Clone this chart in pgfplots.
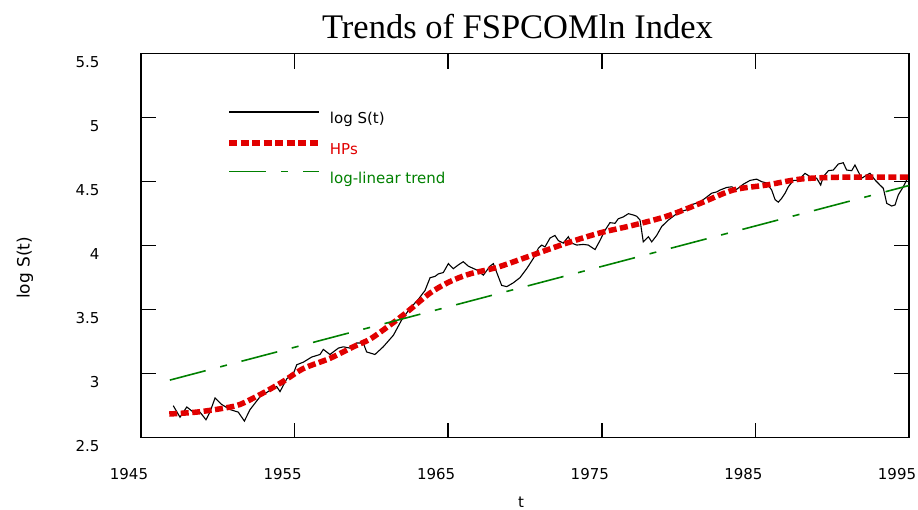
\documentclass[border=0pt]{standalone}
\usepackage{pgfplots}
\pgfplotsset{compat=1.18}
\usepackage{fontspec}
\setmainfont{DejaVu Sans}
\newfontfamily\titlefont{Liberation Serif}
\definecolor{hpred}{RGB}{225,0,0}
\definecolor{trendgreen}{RGB}{0,128,0}
\begin{document}
\begin{tikzpicture}
\useasboundingbox (0,0) rectangle (918pt,510pt);
\begin{axis}[
  at={(141pt,72.3pt)}, anchor=south west,
  width=768pt, height=384pt, scale only axis,
  xmin=1945, xmax=1995, ymin=2.5, ymax=5.5,
  xtick={1945,1955,1965,1975,1985,1995},
  ytick={2.5,3,3.5,4,4.5,5,5.5},
  /pgf/number format/1000 sep={},
  /pgf/number format/assume math mode=true,
  tick align=inside,
  major tick length=15pt,
  axis line style={line width=1.5pt},
  every tick/.style={black, line width=1.5pt},
  ticklabel style={font=\fontsize{15}{18}\selectfont},
  yticklabel style={xshift=-38pt, yshift=-8pt},
  xticklabel style={xshift=-12pt, yshift=-27pt},
  title={\titlefont Trends of FSPCOMln Index},
  title style={font=\fontsize{34.5}{40}\selectfont, at={(axis description cs:0.5,1)}, anchor=south, yshift=5pt, xshift=-7.5pt},
  xlabel={t},
  xlabel style={font=\fontsize{15}{18}\selectfont, at={(axis description cs:0.495,-0.168)}, anchor=center},
  ylabel={log S(t)},
  ylabel style={font=\fontsize{17}{20}\selectfont, at={(axis description cs:-0.151,0.442)}, anchor=center},
  legend style={draw=none, fill=none, at={(axis description cs:0.111,0.85)}, anchor=north west,
    font=\fontsize{15}{18}\selectfont, inner sep=0pt, nodes={inner sep=0pt}, column sep=8pt, row sep=14pt},
  legend cell align=left,
  legend image code/.code={\path[draw=none,fill=none] (0pt,-7pt) rectangle (90pt,7pt); \draw[#1] (0pt,7pt) -- (90pt,7pt);},
]
\addplot[black, line width=1.1pt] coordinates {
(1947.10,2.75) (1947.54,2.66) (1947.98,2.74) (1948.40,2.70) (1948.84,2.70)
(1949.23,2.64) (1949.49,2.70) (1949.82,2.81) (1950.25,2.76) (1950.79,2.72)
(1951.33,2.70) (1951.73,2.63) (1952.10,2.72) (1952.75,2.82) (1953.40,2.87)
(1953.83,2.90) (1954.05,2.86) (1954.49,2.96) (1954.92,3.00) (1955.14,3.07)
(1955.57,3.09) (1956.11,3.13) (1956.65,3.15) (1956.87,3.19) (1957.30,3.15)
(1957.85,3.20) (1958.17,3.21) (1958.61,3.20) (1959.04,3.24) (1959.47,3.24)
(1959.69,3.17) (1960.23,3.15) (1960.77,3.21) (1961.43,3.30) (1961.97,3.42)
(1962.51,3.51) (1963.05,3.58) (1963.49,3.65) (1963.82,3.75) (1964.14,3.76)
(1964.36,3.78) (1964.68,3.79) (1965.01,3.86) (1965.33,3.82) (1965.66,3.85)
(1965.98,3.875) (1966.31,3.84) (1966.86,3.81) (1967.29,3.77) (1967.72,3.84)
(1967.94,3.86) (1968.48,3.69) (1968.81,3.68) (1969.24,3.71) (1969.67,3.75)
(1970.11,3.82) (1970.54,3.90) (1970.87,3.98) (1971.09,4.005) (1971.30,3.99)
(1971.63,4.06) (1971.95,4.08) (1972.17,4.04) (1972.49,4.02) (1972.82,4.07)
(1973.04,4.02) (1973.37,4.005) (1973.80,4.01) (1974.12,4.005) (1974.56,3.97)
(1974.88,4.04) (1975.21,4.12) (1975.53,4.18) (1975.86,4.175) (1976.07,4.21)
(1976.40,4.225) (1976.73,4.25) (1977.05,4.24) (1977.27,4.23) (1977.49,4.20)
(1977.70,4.03) (1978.03,4.07) (1978.25,4.03) (1978.57,4.08) (1978.90,4.15)
(1979.33,4.20) (1979.77,4.24) (1980.09,4.265) (1980.53,4.28) (1980.96,4.325)
(1981.39,4.34) (1981.83,4.38) (1982.15,4.41) (1982.48,4.42) (1982.70,4.435)
(1983.13,4.455) (1983.46,4.46) (1983.78,4.44) (1984.21,4.48) (1984.65,4.51)
(1985.08,4.52) (1985.41,4.50) (1985.73,4.49) (1986.06,4.435) (1986.28,4.36)
(1986.49,4.34) (1986.71,4.37) (1986.93,4.41) (1987.14,4.46) (1987.47,4.51)
(1987.79,4.51) (1988.23,4.565) (1988.55,4.54) (1988.99,4.527) (1989.25,4.474)
(1989.42,4.539) (1989.75,4.586) (1990.07,4.591) (1990.40,4.638) (1990.72,4.648)
(1990.94,4.591) (1991.27,4.586) (1991.48,4.63) (1991.70,4.578) (1991.92,4.527)
(1992.25,4.552) (1992.46,4.566) (1992.79,4.513) (1993.11,4.474) (1993.33,4.448)
(1993.55,4.331) (1993.87,4.31) (1994.09,4.318) (1994.30,4.396) (1994.63,4.461)
(1994.85,4.513) (1995.00,4.55)
};
\addlegendentry{log S(t)}
\addplot[hpred, line width=5.5pt, dash pattern=on 8pt off 3.5pt, smooth] coordinates {
(1946.84,2.685) (1948.63,2.70) (1950.36,2.73) (1951.45,2.76) (1952.96,2.85)
(1954.26,2.94) (1955.57,3.04) (1957.30,3.12) (1958.82,3.21) (1959.91,3.27)
(1961.21,3.38) (1962.30,3.48) (1963.82,3.63) (1965.12,3.72) (1966.42,3.78)
(1968.16,3.83) (1970.33,3.92) (1972.71,4.02) (1974.88,4.10) (1977.05,4.16)
(1979.22,4.23) (1981.39,4.33) (1983.56,4.435) (1985.73,4.474) (1987.90,4.52)
(1990.07,4.534) (1992.50,4.535) (1995.00,4.535)
};
\addlegendentry{\textcolor{hpred}{HPs}}
\addplot[trendgreen, line width=1.6pt, dash pattern=on 37pt off 15pt on 7pt off 15pt] coordinates {
(1946.88,2.95) (1995.00,4.47)
};
\addlegendentry{\textcolor{trendgreen}{log-linear trend}}
\end{axis}
\end{tikzpicture}
\end{document}
